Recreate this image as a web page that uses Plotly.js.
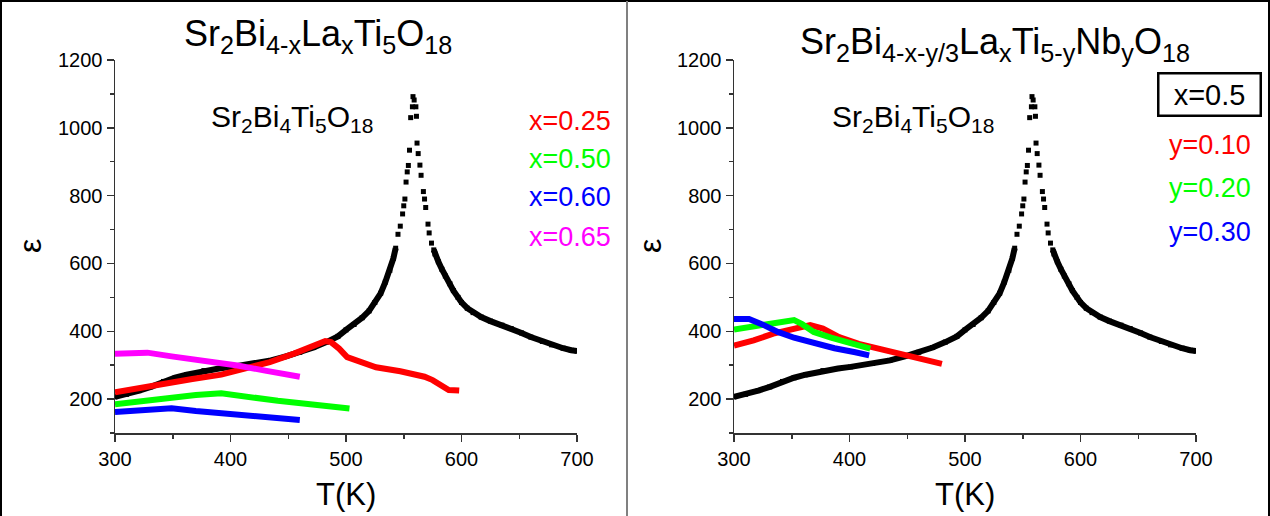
<!DOCTYPE html>
<html>
<head>
<meta charset="utf-8">
<script src="https://cdn.plot.ly/plotly-3.0.1.min.js"></script>
<style>
  html, body { margin: 0; padding: 0; background: #fff; }
  #chart { width: 1270px; height: 516px; }
</style>
</head>
<body>
<div id="chart"></div>
<script>
// Permittivity of Sr2Bi4Ti5O18 (undoped reference, square points)
const sbtT = [300,310,321,331,342,352,362,377,390,401,420,435,448,460,472,483,493,500,507,514,520,525,530,534,538,541,
  543,545,547,549,550,551,552,553,554,555,556,557.5,558,559,560.5,561,561.5,562.5,564,565,567,568,569,571,572,574,576,
  577,580,583,586,590,593,597,600,605,610,617,625,635,643,652,660,670,678,688,695,700];
const sbtE = [207,214,225,236,252,263,272,284,290,295,305,314,326,338,352,368,385,404,420,440,460,485,512,545,580,615,
  645,686,710,746,770,790,840,870,889,934,1030,1062,1092,1082,1062,1034,955,924,890,860,812,790,765,716,690,660,640,
  628,605,583,563,540,520,500,485,468,455,442,430,418,408,395,383,370,360,350,344,342];

// Sr2Bi4-xLaxTi5O18
const la025T = [300,321,342,367,392,413,434,455,473,482,487,494,501,512,526,547,568,575,582,589,598];
const la025E = [220,233,247,259,272,289,309,334,358,371,368,349,324,309,294,282,266,256,240,227,225];
const la050T = [300,324,349,370,392,413,441,469,503];
const la050E = [185,195,205,212,217,207,195,185,172];
const la060T = [300,321,349,370,399,427,460];
const la060E = [162,167,173,165,157,150,138];
const la065T = [300,328,349,377,406,430,460];
const la065E = [334,337,326,314,299,284,266];

// Sr2Bi4-x-y/3LaxTi5-yNbyO18 with x = 0.5
const nb010T = [300,317,334,352,366,377,391,408,430,451,465,480];
const nb010E = [358,373,393,408,418,408,383,363,346,329,319,304];
const nb020T = [300,317,331,345,352,359,369,384,401,418];
const nb020E = [405,415,425,433,433,421,398,381,365,349];
const nb030T = [300,313,324,338,352,369,387,405,417];
const nb030E = [436,436,421,398,381,365,350,338,329];

const leftLabels = ['x=0.25', 'x=0.50', 'x=0.60', 'x=0.65'];
const rightLabels = ['y=0.10', 'y=0.20', 'y=0.30'];

const RED = '#ff0000', GREEN = '#00ff00', BLUE = '#0000ff', MAGENTA = '#ff00ff';
const FONT = 'Liberation Sans, Arial, sans-serif';
const W = 1270, H = 516;

// the continuous part of the reference curve; the sharp peak stays as separate points
const sbtLine = sbtE.map(v => (v > 650 ? null : v));

function refTraces(xa, ya) {
  return [
    { x: sbtT, y: sbtLine, xaxis: xa, yaxis: ya, mode: 'lines', connectgaps: false,
      line: { color: '#000', width: 6 }, hoverinfo: 'skip' },
    { x: sbtT, y: sbtE, xaxis: xa, yaxis: ya, mode: 'markers',
      marker: { symbol: 'square', size: 5, color: '#000' } }
  ];
}
function curve(x, y, color, xa, ya) {
  return { x: x, y: y, xaxis: xa, yaxis: ya, mode: 'lines', line: { color: color, width: 6 } };
}

const data = [
  ...refTraces('x', 'y'),
  curve(la025T, la025E, RED, 'x', 'y'),
  curve(la050T, la050E, GREEN, 'x', 'y'),
  curve(la060T, la060E, BLUE, 'x', 'y'),
  curve(la065T, la065E, MAGENTA, 'x', 'y'),
  ...refTraces('x2', 'y2'),
  curve(nb010T, nb010E, RED, 'x2', 'y2'),
  curve(nb020T, nb020E, GREEN, 'x2', 'y2'),
  curve(nb030T, nb030E, BLUE, 'x2', 'y2')
];

const axisCommon = {
  showline: true, linecolor: '#333', linewidth: 1.5, mirror: false,
  showgrid: false, zeroline: false,
  ticks: 'outside', ticklen: 7, tickwidth: 1.5, tickcolor: '#333',
  tickfont: { family: FONT, size: 20, color: '#000' }
};
function xAxis(domain, anchor) {
  return Object.assign({}, axisCommon, {
    domain: domain, anchor: anchor, range: [300, 700], tick0: 300, dtick: 100,
    minor: { dtick: 50, ticklen: 4, tickwidth: 1.5, tickcolor: '#333', ticks: 'outside' }
  });
}
function yAxis(anchor) {
  return Object.assign({}, axisCommon, {
    domain: [1 - 433 / H, 1 - 60 / H], anchor: anchor, range: [100, 1200], tick0: 0, dtick: 200,
    minor: { dtick: 100, ticklen: 4, tickwidth: 1.5, tickcolor: '#333', ticks: 'outside' }
  });
}

function px(x) { return x / W; }
function py(y) { return 1 - y / H; }
function label(text, x, y, size, color, extra) {
  return Object.assign({
    text: text, xref: 'paper', yref: 'paper', x: px(x), y: py(y),
    xanchor: 'center', yanchor: 'middle', showarrow: false,
    font: { family: FONT, size: size, color: color || '#000' }
  }, extra || {});
}

const annotations = [
  label('Sr<sub>2</sub>Bi<sub>4-x</sub>La<sub>x</sub>Ti<sub>5</sub>O<sub>18</sub>', 318, 36, 36),
  label('Sr<sub>2</sub>Bi<sub>4-x-y/3</sub>La<sub>x</sub>Ti<sub>5-y</sub>Nb<sub>y</sub>O<sub>18</sub>', 995, 44, 36),
  label('Sr<sub>2</sub>Bi<sub>4</sub>Ti<sub>5</sub>O<sub>18</sub>', 292, 119, 30),
  label('Sr<sub>2</sub>Bi<sub>4</sub>Ti<sub>5</sub>O<sub>18</sub>', 913, 119, 30),
  label('ε', 30, 246, 32, '#000', { textangle: -90 }),
  label('ε', 650, 246, 32, '#000', { textangle: -90 }),
  label('T(K)', 346, 494, 31),
  label('T(K)', 965, 494, 31),
  label(leftLabels[0], 570, 121, 27, RED),
  label(leftLabels[1], 570, 159, 27, GREEN),
  label(leftLabels[2], 570, 197, 27, BLUE),
  label(leftLabels[3], 570, 237, 27, MAGENTA),
  label('x=0.5', 1209, 94, 29, '#000', { bordercolor: '#000', borderwidth: 2.5, borderpad: 2, width: 96, height: 36 }),
  label(rightLabels[0], 1210, 145, 27, RED),
  label(rightLabels[1], 1210, 188, 27, GREEN),
  label(rightLabels[2], 1210, 232, 27, BLUE)
];

const shapes = [
  { type: 'line', xref: 'paper', yref: 'paper', x0: px(1), x1: px(1), y0: 0, y1: 1, line: { color: '#000', width: 2 } },
  { type: 'line', xref: 'paper', yref: 'paper', x0: 0, x1: 1, y0: py(1), y1: py(1), line: { color: '#000', width: 2 } },
  { type: 'line', xref: 'paper', yref: 'paper', x0: px(1269), x1: px(1269), y0: 0, y1: 1, line: { color: '#000', width: 2 } },
  { type: 'line', xref: 'paper', yref: 'paper', x0: px(627), x1: px(627), y0: 0, y1: py(1), line: { color: '#808080', width: 2 } }
];

const layout = {
  width: W, height: H,
  margin: { l: 0, r: 0, t: 0, b: 0, pad: 0 },
  paper_bgcolor: '#fff', plot_bgcolor: '#fff',
  showlegend: false,
  xaxis: xAxis([px(115), px(577)], 'y'),
  yaxis: yAxis('x'),
  xaxis2: xAxis([px(734), px(1196)], 'y2'),
  yaxis2: yAxis('x2'),
  annotations: annotations,
  shapes: shapes
};

Plotly.newPlot('chart', data, layout, { displayModeBar: false, staticPlot: true });
</script>
</body>
</html>
